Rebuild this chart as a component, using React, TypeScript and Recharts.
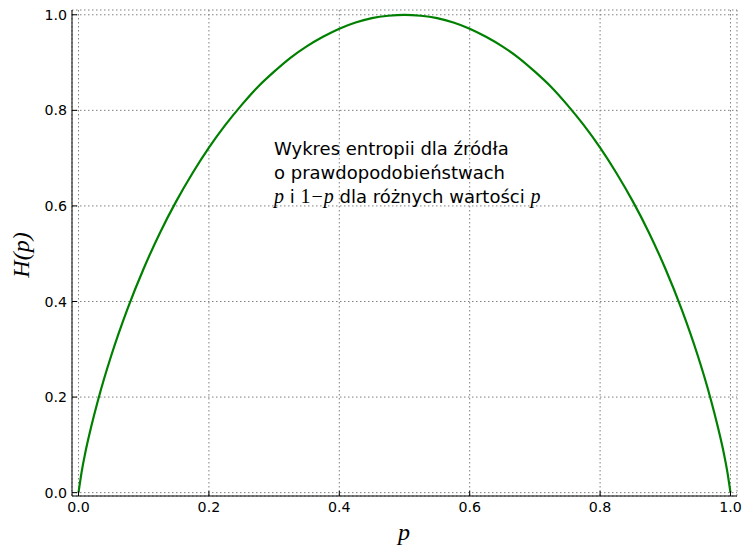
import React from 'react';
import { LineChart, Line, XAxis, YAxis, CartesianGrid } from 'recharts';

// p values and the entropy H(p)
const pValues = [
    0, 0.005, 0.01, 0.02, 0.03, 0.04, 0.05, 0.075, 0.1, 0.125, 0.15, 0.175, 0.2, 0.225, 0.25,
    0.275, 0.3, 0.325, 0.35, 0.375, 0.4, 0.425, 0.45, 0.475, 0.5, 0.525, 0.55, 0.575, 0.6,
    0.625, 0.65, 0.675, 0.7, 0.725, 0.75, 0.775, 0.8, 0.825, 0.85, 0.875, 0.9, 0.925, 0.95,
    0.96, 0.97, 0.98, 0.99, 0.995, 1,
];
const hValues = [
    0, 0.045, 0.081, 0.141, 0.194, 0.242, 0.286, 0.384, 0.469, 0.544, 0.61, 0.669, 0.722,
    0.769, 0.811, 0.849, 0.881, 0.91, 0.934, 0.954, 0.971, 0.984, 0.993, 0.998, 1.0, 0.998,
    0.993, 0.984, 0.971, 0.954, 0.934, 0.91, 0.881, 0.849, 0.811, 0.769, 0.722, 0.669, 0.61,
    0.544, 0.469, 0.384, 0.286, 0.242, 0.194, 0.141, 0.081, 0.045, 0,
];
const ticks = [0, 0.2, 0.4, 0.6, 0.8, 1.0];

const data = pValues.map((p, i) => ({ p, h: hValues[i] }));

const W = 743;
const H = 546;
const sans = 'DejaVu Sans';
const mathFont = 'Liberation Serif';
const tickStyle = { fontSize: 14.2, fill: '#000', fontFamily: sans };
const fmt = (v: number) => v.toFixed(1);

export default function App() {
    return (
        <div style={{ position: 'absolute', left: 0, top: 0, width: W, height: H, background: '#fff' }}>
            <LineChart
                width={W}
                height={H}
                data={data}
                margin={{ top: 10, right: 6, bottom: 0, left: 0 }}
            >
                <CartesianGrid stroke="#7f7f7f" strokeDasharray="1.5 2.5" strokeWidth={1} />
                <XAxis
                    dataKey="p"
                    type="number"
                    domain={[-0.01, 1.01]}
                    ticks={ticks}
                    tickFormatter={fmt}
                    height={50}
                    tickSize={-5}
                    tickMargin={11}
                    stroke="#000"
                    tick={tickStyle}
                    allowDataOverflow
                />
                <XAxis
                    xAxisId="top"
                    orientation="top"
                    type="number"
                    domain={[-0.01, 1.01]}
                    ticks={ticks}
                    height={0}
                    tickSize={-5}
                    tick={false}
                    stroke="#000"
                    allowDataOverflow
                />
                <YAxis
                    type="number"
                    domain={[-0.007, 1.01]}
                    ticks={ticks}
                    tickFormatter={fmt}
                    width={72}
                    tickSize={-5}
                    tickMargin={10}
                    stroke="#000"
                    tick={tickStyle}
                    allowDataOverflow
                />
                <YAxis
                    yAxisId="right"
                    orientation="right"
                    type="number"
                    domain={[-0.007, 1.01]}
                    ticks={ticks}
                    width={0}
                    tickSize={-5}
                    tick={false}
                    stroke="#000"
                    allowDataOverflow
                />
                <Line
                    type="monotone"
                    dataKey="h"
                    stroke="#008000"
                    strokeWidth={2.2}
                    dot={false}
                    isAnimationActive={false}
                />
            </LineChart>
            <svg
                width={W}
                height={H}
                style={{ position: 'absolute', left: 0, top: 0, pointerEvents: 'none' }}
            >
                <g fontFamily={sans} fontSize={18} fill="#000">
                    <text x={274} y={154.5}>Wykres entropii dla źródła</text>
                    <text x={274} y={179}>o prawdopodobieństwach</text>
                    <text x={274} y={203}>
                        <tspan fontFamily={mathFont} fontStyle="italic" fontSize={20}>p</tspan>
                        <tspan> i </tspan>
                        <tspan fontFamily={mathFont} fontSize={20}>1</tspan>
                        <tspan fontFamily={mathFont} fontSize={20} dx={1}>−</tspan>
                        <tspan fontFamily={mathFont} fontStyle="italic" fontSize={20} dx={1}>p</tspan>
                        <tspan> dla różnych wartości </tspan>
                        <tspan fontFamily={mathFont} fontStyle="italic" fontSize={20}>p</tspan>
                    </text>
                </g>
                <text x={404} y={540} textAnchor="middle" fontFamily={mathFont} fontStyle="italic" fontSize={24}>
                    p
                </text>
                <text
                    x={29}
                    y={255}
                    textAnchor="middle"
                    fontFamily={mathFont}
                    fontStyle="italic"
                    fontSize={24}
                    transform="rotate(-90 29 255)"
                >
                    H(p)
                </text>
            </svg>
        </div>
    );
}
